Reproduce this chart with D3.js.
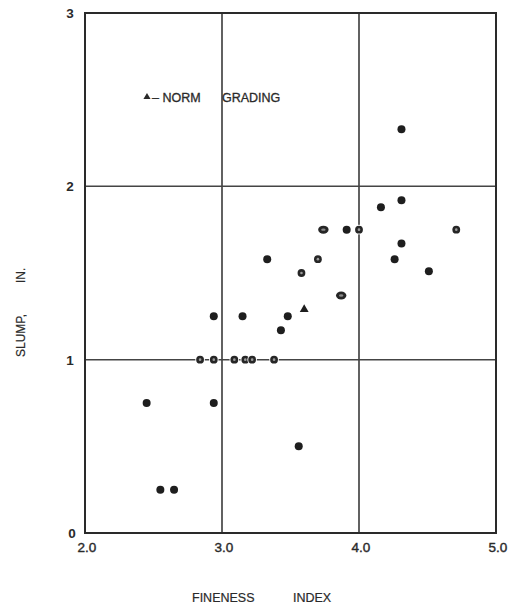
<!DOCTYPE html>
<html><head><meta charset="utf-8">
<script src="https://cdn.jsdelivr.net/npm/d3@7"></script>
<style>body{margin:0;background:#fff}svg{display:block}</style>
</head><body><svg id="c" width="513" height="606"></svg>
<script>
// Data
const xTicks = [2.0, 3.0, 4.0, 5.0];
const xTickLabels = ["2.0", "3.0", "4.0", "5.0"];
const yTicks = [0, 1, 2, 3];
const yTickLabels = ["0", "1", "2", "3"];
const fineness = [4.31,4.31,4.16,3.91,4.31,4.26,4.51,3.33,2.94,3.15,3.48,3.43,2.45,2.94,3.56,2.55,2.65,
                  4.00,4.71,3.70,3.58,2.84,2.94,3.09,3.17,3.22,3.38,
                  3.74,3.87,
                  3.60];
const slump =    [2.33,1.92,1.88,1.75,1.67,1.58,1.51,1.58,1.25,1.25,1.25,1.17,0.75,0.75,0.50,0.25,0.25,
                  1.75,1.75,1.58,1.50,1.00,1.00,1.00,1.00,1.00,1.00,
                  1.75,1.37,
                  1.29];
const markerType = ["dot","dot","dot","dot","dot","dot","dot","dot","dot","dot","dot","dot","dot","dot","dot","dot","dot",
                    "ring","ring","ring","ring","ring","ring","ring","ring","ring","ring",
                    "double","double",
                    "triangle"];
const legendText = ["\u2013 NORM", "GRADING"];
const xTitle = ["FINENESS", "INDEX"];
const yTitle = ["SLUMP,", "IN."];

const svg = d3.select("#c");
const L = 85, R = 496, T = 13, B = 533;
const x = d3.scaleLinear().domain([2, 5]).range([L, R]);
const y = d3.scaleLinear().domain([0, 3]).range([B, T]);
const ink = "#2a2a2a";
const font = "'Liberation Sans', Arial, sans-serif";

// grid
const g = svg.append("g");
g.selectAll("line.vx").data(xTicks.slice(1, -1)).join("line")
  .attr("x1", d => x(d)).attr("x2", d => x(d)).attr("y1", T).attr("y2", B)
  .attr("stroke", "#3a3a3a").attr("stroke-width", 1.6);
g.selectAll("line.hy").data(yTicks.slice(1, -1)).join("line")
  .attr("x1", L).attr("x2", R).attr("y1", d => y(d)).attr("y2", d => y(d))
  .attr("stroke", "#444").attr("stroke-width", 1.5);
// frame
svg.append("rect").attr("x", L).attr("y", T).attr("width", R - L).attr("height", B - T)
  .attr("fill", "none").attr("stroke", ink).attr("stroke-width", 2);

// tick labels
svg.selectAll("text.xt").data(xTicks).join("text")
  .attr("x", d => x(d) + 2).attr("y", B + 19).attr("text-anchor", "middle")
  .attr("font-family", font).attr("font-size", 13.5).attr("fill", ink)
  .attr("stroke", ink).attr("stroke-width", 0.4)
  .text((d, i) => xTickLabels[i]);
svg.selectAll("text.yt").data(yTicks).join("text")
  .attr("x", (d, i) => i === 0 ? 72 : 70).attr("y", d => y(d) + 5).attr("text-anchor", "middle")
  .attr("font-family", font).attr("font-size", 13.5).attr("font-weight", "bold").attr("fill", ink)
  .text((d, i) => yTickLabels[i]);

// axis titles
svg.append("text").attr("x", 192).attr("y", 602).attr("text-anchor", "start")
  .attr("font-family", font).attr("font-size", 12.5).attr("fill", ink)
  .attr("stroke", ink).attr("stroke-width", 0.2).text(xTitle[0]);
svg.append("text").attr("x", 293).attr("y", 602).attr("text-anchor", "start")
  .attr("font-family", font).attr("font-size", 12.5).attr("fill", ink)
  .attr("stroke", ink).attr("stroke-width", 0.2).text(xTitle[1]);
svg.append("text").attr("transform", "translate(25,357) rotate(-90)").attr("text-anchor", "start")
  .attr("font-family", font).attr("font-size", 12).attr("fill", ink)
  .attr("stroke", ink).attr("stroke-width", 0.2).text(yTitle[0]);
svg.append("text").attr("transform", "translate(25,283) rotate(-90)").attr("text-anchor", "start")
  .attr("font-family", font).attr("font-size", 12).attr("fill", ink)
  .attr("stroke", ink).attr("stroke-width", 0.2).text(yTitle[1]);

// legend
const sym = d3.symbol().type(d3.symbolTriangle);
svg.append("path").attr("d", sym.size(22)()).attr("transform", "translate(147,97)").attr("fill", ink);
svg.append("text").attr("x", 152).attr("y", 102).attr("font-family", font).attr("font-size", 12.5)
  .attr("fill", ink).attr("stroke", ink).attr("stroke-width", 0.3).text(legendText[0]);
svg.append("text").attr("x", 222).attr("y", 102).attr("font-family", font).attr("font-size", 12.5)
  .attr("fill", ink).attr("stroke", ink).attr("stroke-width", 0.3).text(legendText[1]);

// points
const pts = fineness.map((f, i) => ({ f, s: slump[i], t: markerType[i] }));
const pg = svg.append("g");
pts.forEach(p => {
  const cx = x(p.f), cy = y(p.s);
  if (p.t === "dot") {
    pg.append("circle").attr("cx", cx).attr("cy", cy).attr("r", 4).attr("fill", "#1e1e1e");
  } else if (p.t === "ring") {
    pg.append("circle").attr("cx", cx).attr("cy", cy).attr("r", 4.8).attr("fill", "#fff");
    pg.append("circle").attr("cx", cx).attr("cy", cy).attr("r", 3.9).attr("fill", "#262626");
    pg.append("circle").attr("cx", cx).attr("cy", cy).attr("r", 1.3).attr("fill", "#9a9a9a");
  } else if (p.t === "double") {
    pg.append("ellipse").attr("cx", cx).attr("cy", cy).attr("rx", 5.2).attr("ry", 4).attr("fill", "#262626");
    pg.append("ellipse").attr("cx", cx).attr("cy", cy).attr("rx", 2.2).attr("ry", 1.2).attr("fill", "#8a8a8a");
  } else {
    pg.append("path").attr("d", sym.size(34)()).attr("transform", `translate(${cx},${cy})`).attr("fill", "#1e1e1e");
  }
});
</script></body></html>
